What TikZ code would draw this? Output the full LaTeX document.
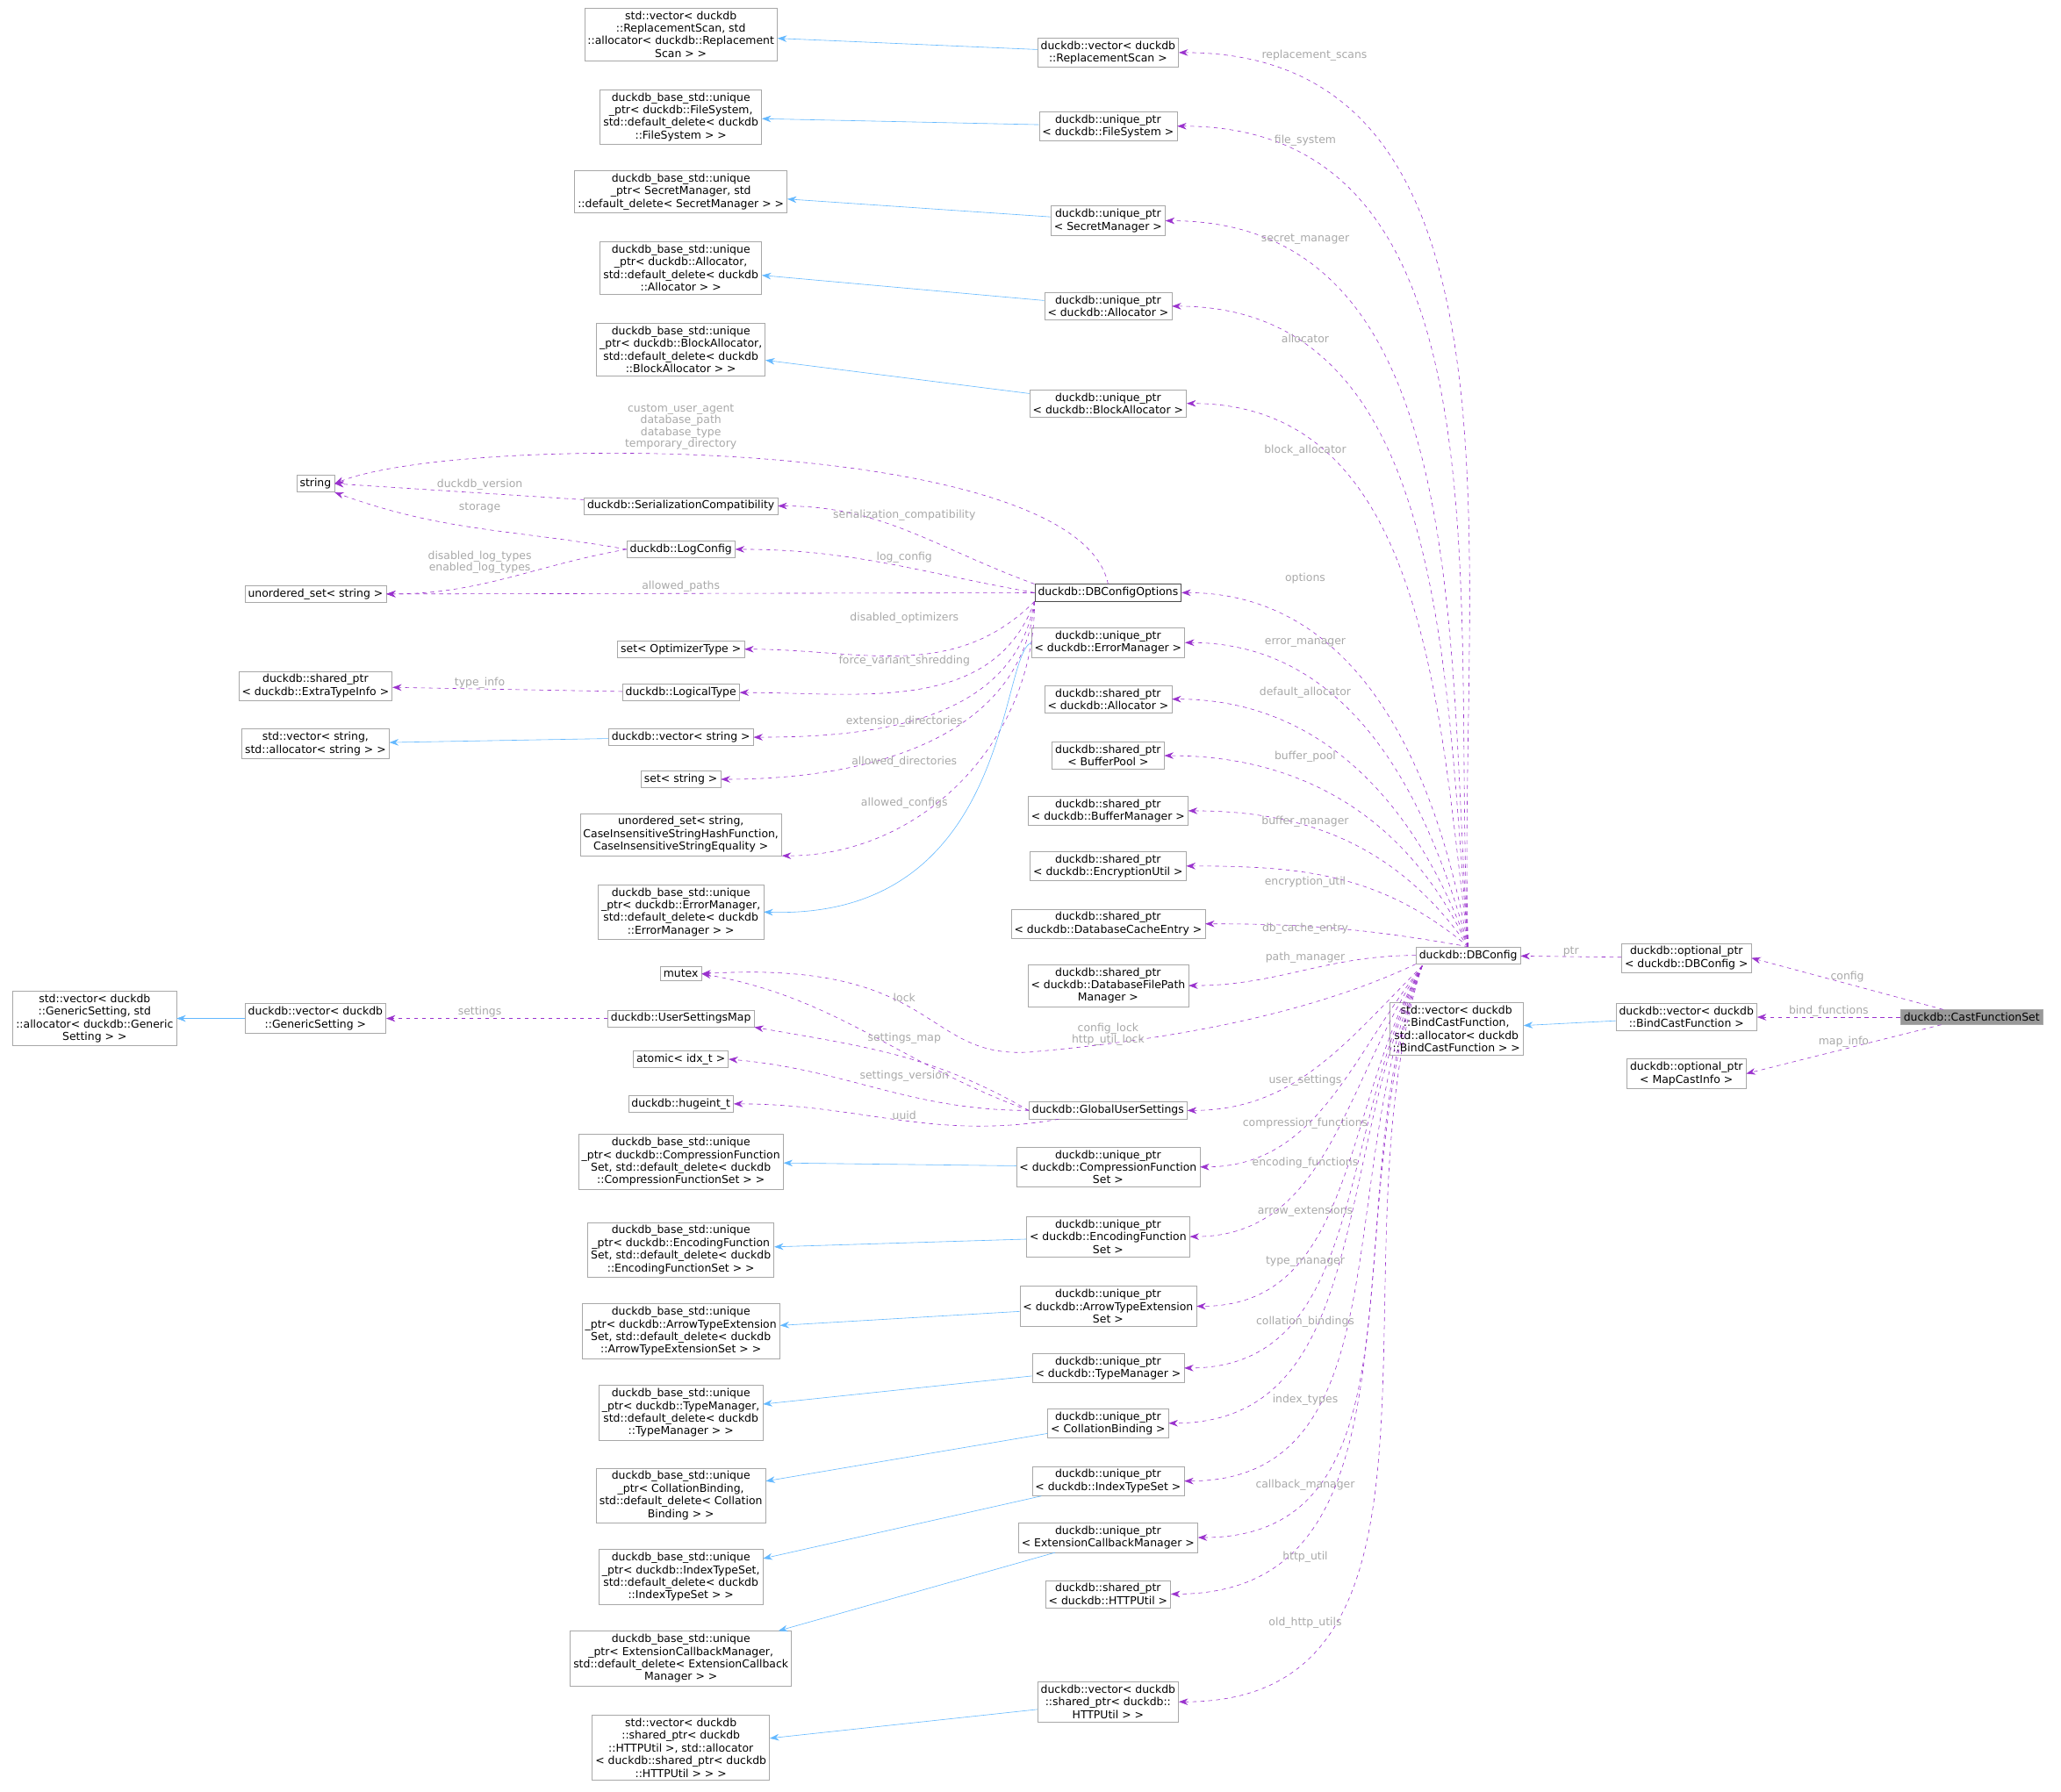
\documentclass[tikz,border=0pt]{standalone}
\usepackage{fontspec}
\setmainfont{DejaVu Sans}
\usetikzlibrary{arrows.meta}

\definecolor{depcol}{HTML}{9A32CD}
\definecolor{inhcol}{HTML}{63B8FF}
\definecolor{boxcol}{HTML}{A8A8A8}
\definecolor{lblcol}{HTML}{A8A8A8}

\tikzset{
  cls/.style={draw=boxcol,fill=white,font=\fontsize{8.3}{9.6}\selectfont,align=center,inner sep=2.4pt},
  dep/.style={draw=depcol,dashed,-{Stealth[length=7pt,width=5pt]}},
  inh/.style={draw=inhcol,-{Stealth[length=7pt,width=5pt]}},
  lbl/.style={text=lblcol,font=\fontsize{8.3}{9}\selectfont,align=center,inner sep=0pt}
}

\begin{document}
\begin{tikzpicture}[x=1pt,y=-1pt]
  \path[use as bounding box] (0,0) rectangle (1568,1363);

  % right side
  \node[cls,fill=gray!80] (CFS) at (1500,774) {duckdb::CastFunctionSet};
  \node[cls] (optCfg) at (1283,729) {duckdb::optional\_ptr\\< duckdb::DBConfig >};
  \node[cls] (vecBind) at (1283,774) {duckdb::vector< duckdb\\::BindCastFunction >};
  \node[cls] (optMap) at (1283,817) {duckdb::optional\_ptr\\< MapCastInfo >};
  \node[cls] (stdBind) at (1108,783) {std::vector< duckdb\\::BindCastFunction,\\ std::allocator< duckdb\\::BindCastFunction > >};
  \node[cls] (DBC) at (1117,727) {duckdb::DBConfig};
  \coordinate (DBCsw) at (1082,735);

  % members of DBConfig
  \node[cls] (vecRS) at (843,40) {duckdb::vector< duckdb\\::ReplacementScan >};
  \node[cls] (upFS) at (843,96) {duckdb::unique\_ptr\\< duckdb::FileSystem >};
  \node[cls] (upSM) at (843,168) {duckdb::unique\_ptr\\< SecretManager >};
  \node[cls] (upAl) at (843,233) {duckdb::unique\_ptr\\< duckdb::Allocator >};
  \node[cls] (upBA) at (843,307) {duckdb::unique\_ptr\\< duckdb::BlockAllocator >};
  \node[cls,draw=black!70] (DBCO) at (843,451) {duckdb::DBConfigOptions};
  \node[cls] (upEM) at (843,489) {duckdb::unique\_ptr\\< duckdb::ErrorManager >};
  \node[cls] (spAl) at (843,532) {duckdb::shared\_ptr\\< duckdb::Allocator >};
  \node[cls] (spBP) at (843,575) {duckdb::shared\_ptr\\< BufferPool >};
  \node[cls] (spBM) at (843,617) {duckdb::shared\_ptr\\< duckdb::BufferManager >};
  \node[cls] (spEU) at (843,659) {duckdb::shared\_ptr\\< duckdb::EncryptionUtil >};
  \node[cls] (spDC) at (843,703) {duckdb::shared\_ptr\\< duckdb::DatabaseCacheEntry >};
  \node[cls] (spDF) at (843,750) {duckdb::shared\_ptr\\< duckdb::DatabaseFilePath\\Manager >};
  \node[cls] (GUS) at (843,845) {duckdb::GlobalUserSettings};
  \node[cls] (upCF) at (843,888) {duckdb::unique\_ptr\\< duckdb::CompressionFunction\\Set >};
  \node[cls] (upEF) at (843,941) {duckdb::unique\_ptr\\< duckdb::EncodingFunction\\Set >};
  \node[cls] (upAT) at (843,994) {duckdb::unique\_ptr\\< duckdb::ArrowTypeExtension\\Set >};
  \node[cls] (upTM) at (843,1041) {duckdb::unique\_ptr\\< duckdb::TypeManager >};
  \node[cls] (upCB) at (843,1083) {duckdb::unique\_ptr\\< CollationBinding >};
  \node[cls] (upIT) at (843,1127) {duckdb::unique\_ptr\\< duckdb::IndexTypeSet >};
  \node[cls] (upEC) at (843,1170) {duckdb::unique\_ptr\\< ExtensionCallbackManager >};
  \node[cls] (spHU) at (843,1213) {duckdb::shared\_ptr\\< duckdb::HTTPUtil >};
  \node[cls] (vecHU) at (843,1295) {duckdb::vector< duckdb\\::shared\_ptr< duckdb::\\HTTPUtil > >};

  % left column
  \node[cls] (bRS) at (518,26) {std::vector< duckdb\\::ReplacementScan, std\\::allocator< duckdb::Replacement\\Scan > >};
  \node[cls] (bFS) at (518,89) {duckdb\_base\_std::unique\\\_ptr< duckdb::FileSystem,\\ std::default\_delete< duckdb\\::FileSystem > >};
  \node[cls] (bSM) at (518,146) {duckdb\_base\_std::unique\\\_ptr< SecretManager, std\\::default\_delete< SecretManager > >};
  \node[cls] (bAl) at (518,204) {duckdb\_base\_std::unique\\\_ptr< duckdb::Allocator,\\ std::default\_delete< duckdb\\::Allocator > >};
  \node[cls] (bBA) at (518,266) {duckdb\_base\_std::unique\\\_ptr< duckdb::BlockAllocator,\\ std::default\_delete< duckdb\\::BlockAllocator > >};
  \node[cls] (SerC) at (518,385) {duckdb::SerializationCompatibility};
  \node[cls] (LogC) at (518,418) {duckdb::LogConfig};
  \node[cls] (setOpt) at (518,494) {set< OptimizerType >};
  \node[cls] (LT) at (518,527) {duckdb::LogicalType};
  \node[cls] (vecStr) at (518,561) {duckdb::vector< string >};
  \node[cls] (setStr) at (518,593) {set< string >};
  \node[cls] (usCI) at (518,635) {unordered\_set< string,\\ CaseInsensitiveStringHashFunction,\\ CaseInsensitiveStringEquality >};
  \node[cls] (bEM) at (518,694) {duckdb\_base\_std::unique\\\_ptr< duckdb::ErrorManager,\\ std::default\_delete< duckdb\\::ErrorManager > >};
  \node[cls] (mutex) at (518,741) {mutex};
  \node[cls] (USM) at (518,775) {duckdb::UserSettingsMap};
  \node[cls] (atomic) at (518,806) {atomic< idx\_t >};
  \node[cls] (huge) at (518,840) {duckdb::hugeint\_t};
  \node[cls] (bCF) at (518,884) {duckdb\_base\_std::unique\\\_ptr< duckdb::CompressionFunction\\Set, std::default\_delete< duckdb\\::CompressionFunctionSet > >};
  \node[cls] (bEF) at (518,951) {duckdb\_base\_std::unique\\\_ptr< duckdb::EncodingFunction\\Set, std::default\_delete< duckdb\\::EncodingFunctionSet > >};
  \node[cls] (bAT) at (518,1013) {duckdb\_base\_std::unique\\\_ptr< duckdb::ArrowTypeExtension\\Set, std::default\_delete< duckdb\\::ArrowTypeExtensionSet > >};
  \node[cls] (bTM) at (518,1075) {duckdb\_base\_std::unique\\\_ptr< duckdb::TypeManager,\\ std::default\_delete< duckdb\\::TypeManager > >};
  \node[cls] (bCB) at (518,1138) {duckdb\_base\_std::unique\\\_ptr< CollationBinding,\\ std::default\_delete< Collation\\Binding > >};
  \node[cls] (bIT) at (518,1200) {duckdb\_base\_std::unique\\\_ptr< duckdb::IndexTypeSet,\\ std::default\_delete< duckdb\\::IndexTypeSet > >};
  \node[cls] (bEC) at (518,1262) {duckdb\_base\_std::unique\\\_ptr< ExtensionCallbackManager,\\ std::default\_delete< ExtensionCallback\\Manager > >};
  \node[cls] (bHU) at (518,1330) {std::vector< duckdb\\::shared\_ptr< duckdb\\::HTTPUtil >, std::allocator\\< duckdb::shared\_ptr< duckdb\\::HTTPUtil > > >};

  % far left
  \node[cls] (string) at (240,368) {string};
  \node[cls] (usStr) at (240,452) {unordered\_set< string >};
  \node[cls] (spET) at (240,522) {duckdb::shared\_ptr\\< duckdb::ExtraTypeInfo >};
  \node[cls] (vecSA) at (240,566) {std::vector< string,\\ std::allocator< string > >};
  \node[cls] (vecGS) at (240,775) {duckdb::vector< duckdb\\::GenericSetting >};
  \node[cls] (bGS) at (72,775) {std::vector< duckdb\\::GenericSetting, std\\::allocator< duckdb::Generic\\Setting > >};

  % CastFunctionSet
  \draw[dep] (CFS) -- (optCfg.east) node[lbl,pos=0.5,above=1pt] {config};
  \draw[dep] (CFS) -- (vecBind) node[lbl,pos=0.5,above=0pt] {bind\_functions};
  \draw[dep] (CFS) -- (optMap.east) node[lbl,pos=0.5,above=1pt] {map\_info};
  \draw[dep] (optCfg) -- (DBC) node[lbl,pos=0.5,above=0pt] {ptr};
  \draw[inh] (vecBind) -- (stdBind);

  % DBConfig members
  \foreach \t/\l/\o/\lx/\ly in {vecRS/replacement\_scans/92/1000/42, upFS/file\_system/93/993/107,
      upSM/secret\_manager/94/993/182, upAl/allocator/95/993/258, upBA/block\_allocator/97/993/343,
      DBCO/options/100/993/440, upEM/error\_manager/105/993/489, spAl/default\_allocator/110/993/527,
      spBP/buffer\_pool/115/993/576, spBM/buffer\_manager/125/993/625, spEU/encryption\_util/140/993/671,
      spDC/db\_cache\_entry/170/993/707}
    \draw[dep] (DBC.north) to[out=\o,in=0] (\t.east) node[lbl] at (\lx,\ly) {\l};
  \draw[dep] (DBC) to[out=180,in=0] (spDF.east) node[lbl] at (993,729) {path\_manager};
  \foreach \t/\l/\o/\lx/\ly in {GUS/user\_settings/225/993/822, upCF/compression\_functions/232/993/855,
      upEF/encoding\_functions/236/993/885, upAT/arrow\_extensions/240/993/922, upTM/type\_manager/242/993/960,
      upCB/collation\_bindings/244/993/1006, upIT/index\_types/246/993/1065, upEC/callback\_manager/248/993/1130,
      spHU/http\_util/250/993/1185, vecHU/old\_http\_utils/252/993/1235}
    \draw[dep] (DBCsw) to[out=\o,in=0] (\t.east) node[lbl] at (\lx,\ly) {\l};
  \draw[dep] (DBC.south west) .. controls (1000,770) and (900,790) .. (790,800)
    .. controls (700,810) and (720,730) .. (mutex.east);
  \node[lbl] at (843,787) {config\_lock\\http\_util\_lock};

  % DBConfigOptions members
  \draw[dep] (DBCO.north) .. controls (820,330) and (350,330) .. (string.east)
    node[lbl] at (518,325) {custom\_user\_agent\\database\_path\\database\_type\\temporary\_directory};
  \draw[dep] (DBCO.north west) to[out=160,in=0] (SerC.east) node[lbl] at (688,392) {serialization\_compatibility};
  \draw[dep] (DBCO.west) to[out=170,in=0] (LogC.east) node[lbl] at (688,424) {log\_config};
  \draw[dep] (DBCO) -- (usStr.east) node[lbl] at (518,446) {allowed\_paths};
  \draw[dep] (DBCO.south west) to[out=225,in=0] (setOpt.east) node[lbl] at (688,470) {disabled\_optimizers};
  \draw[dep] (DBCO.south west) to[out=250,in=0] (LT.east) node[lbl] at (688,503) {force\_variant\_shredding};
  \draw[dep] (DBCO.south west) to[out=260,in=0] (vecStr.east) node[lbl] at (688,549) {extension\_directories};
  \draw[dep] (DBCO.south west) to[out=265,in=0] (setStr.east) node[lbl] at (688,580) {allowed\_directories};
  \draw[dep] (DBCO.south west) to[out=270,in=0] (usCI.south east) node[lbl] at (688,611) {allowed\_configs};

  \draw[dep] (SerC) -- (string.east) node[lbl] at (365,369) {duckdb\_version};
  \draw[dep] (LogC.west) to[out=170,in=-20] (string.south east) node[lbl] at (365,386) {storage};
  \draw[dep] (LogC.west) to[out=190,in=0] (usStr.east) node[lbl] at (365,428) {disabled\_log\_types\\enabled\_log\_types};
  \draw[dep] (LT) -- (spET) node[lbl] at (365,520) {type\_info};
  \draw[dep] (USM) -- (vecGS) node[lbl] at (365,770) {settings};

  \draw[dep] (GUS.west) to[out=160,in=-10] (mutex.east) node[lbl] at (688,759) {lock};
  \draw[dep] (GUS.west) to[out=150,in=-10] (USM.south east) node[lbl] at (688,790) {settings\_map};
  \draw[dep] (GUS) to[out=180,in=-5] (atomic.east) node[lbl] at (688,819) {settings\_version};
  \draw[dep] (GUS) to[out=190,in=0] (huge.east) node[lbl] at (688,849) {uuid};

  % inheritance
  \foreach \c/\b in {vecRS/bRS, upFS/bFS, upSM/bSM, upAl/bAl, upBA/bBA, upCF/bCF, upEF/bEF,
      upAT/bAT, upTM/bTM, upCB/bCB, upIT/bIT, upEC/bEC, vecHU/bHU, vecStr/vecSA, vecGS/bGS}
    \draw[inh] (\c) -- (\b);
  \draw[inh] (upEM.west) .. controls (760,500) and (770,700) .. (bEM.east);
\end{tikzpicture}
\end{document}
